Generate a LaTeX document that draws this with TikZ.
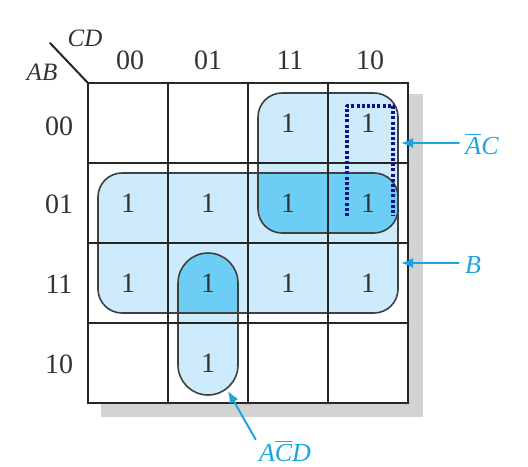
\documentclass[tikz,border=0pt]{standalone}
\usepackage{fontspec}
\setmainfont{Liberation Serif}
\usetikzlibrary{arrows.meta}
\definecolor{grpfill}{HTML}{CDEBFA}
\definecolor{grpdark}{HTML}{6DCEF5}
\definecolor{lblcyan}{HTML}{1BA6DF}
\definecolor{dotnavy}{HTML}{12128A}
\definecolor{shadowgray}{HTML}{D3D3D3}
\newcommand{\negvar}[1]{$\overline{\mbox{\itshape #1}}$}
\tikzset{
  gridline/.style={line width=1.4pt,black!85},
  grpline/.style={line width=0.8pt,black!75},
  onecell/.style={inner sep=0pt,font=\fontsize{14}{16}\selectfont,black!80},
  headlbl/.style={inner sep=0pt,font=\fontsize{14}{16}\selectfont,black!80},
  varlbl/.style={inner sep=0pt,font=\fontsize{12.5}{14}\selectfont\itshape,black!80},
  termlbl/.style={inner sep=3pt,font=\fontsize{13}{15}\selectfont\itshape,text=lblcyan},
  termarrow/.style={line width=1pt,lblcyan,-{Latex[length=6pt,width=5pt]}}
}
\begin{document}
\begin{tikzpicture}[x=0.5pt,y=-0.5pt,line cap=round,line join=round,>=latex]
  \useasboundingbox (0,0) rectangle (528,466);
  % shadow and map background
  \fill[shadowgray] (101,94) rectangle (423,417);
  \fill[white] (88,83) rectangle (408,403);
  % groups
  \fill[grpfill,rounded corners=12pt] (258,93) rectangle (398,233);
  \fill[grpfill,rounded corners=12pt] (98,173) rectangle (398,313);
  \fill[grpfill,rounded corners=15pt] (178,253) rectangle (238,395);
  \begin{scope}
    \clip[rounded corners=12pt] (258,93) rectangle (398,233);
    \fill[grpdark,rounded corners=12pt] (98,173) rectangle (398,313);
  \end{scope}
  \begin{scope}
    \clip[rounded corners=15pt] (178,253) rectangle (238,395);
    \fill[grpdark,rounded corners=12pt] (98,173) rectangle (398,313);
  \end{scope}
  \draw[grpline,rounded corners=12pt] (258,93) rectangle (398,233);
  \draw[grpline,rounded corners=12pt] (98,173) rectangle (398,313);
  \draw[grpline,rounded corners=15pt] (178,253) rectangle (238,395);
  % grid
  \foreach \g in {88,168,248,328,408} {
    \draw[gridline] (\g,83) -- (\g,403);
    \draw[gridline] (88,\g-5) -- (408,\g-5);
  }
  \draw[line width=1pt,black!85] (50,43) -- (88,83);
  % dotted loop
  \draw[dotnavy,line width=1.6pt,line cap=butt,dash pattern=on 1.5pt off 1.1pt]
    (347,216) -- (347,106) -- (393,106) -- (393,216);
  % headings
  \node[varlbl] (cd) at (85,38) {CD};
  \node[varlbl] (ab) at (42,72) {AB};
  \node[headlbl] (c00) at (130,60) {00};
  \node[headlbl] (c01) at (208,60) {01};
  \node[headlbl] (c11) at (290,60) {11};
  \node[headlbl] (c10) at (370,60) {10};
  \node[headlbl] (r00) at (59,126) {00};
  \node[headlbl] (r01) at (59,204) {01};
  \node[headlbl] (r11) at (59,284) {11};
  \node[headlbl] (r10) at (59,364) {10};
  % ones
  \node[onecell] (m0011) at (288,123) {1};
  \node[onecell] (m0010) at (368,123) {1};
  \foreach \c/\x in {00/128,01/208,11/288,10/368} {
    \node[onecell] (m01\c) at (\x,203) {1};
    \node[onecell] (m11\c) at (\x,283) {1};
  }
  \node[onecell] (m1001) at (208,363) {1};
  % terms
  \node[termlbl,anchor=base] (tAC) at (482,154) {\negvar{A}C};
  \node[termlbl,anchor=base] (tB) at (473,273) {B};
  \node[termlbl,anchor=base] (tACD) at (285,461) {A\negvar{C}D};
  \coordinate (pAC) at (401,143);
  \coordinate (pB) at (401,263);
  \coordinate (pACD) at (228,391);
  \draw[termarrow] (tAC.west |- pAC) -- (pAC);
  \draw[termarrow] (tB.west |- pB) -- (pB);
  \draw[termarrow] ([shift={(3,6)}]tACD.north west) -- (pACD);
\end{tikzpicture}
\end{document}
